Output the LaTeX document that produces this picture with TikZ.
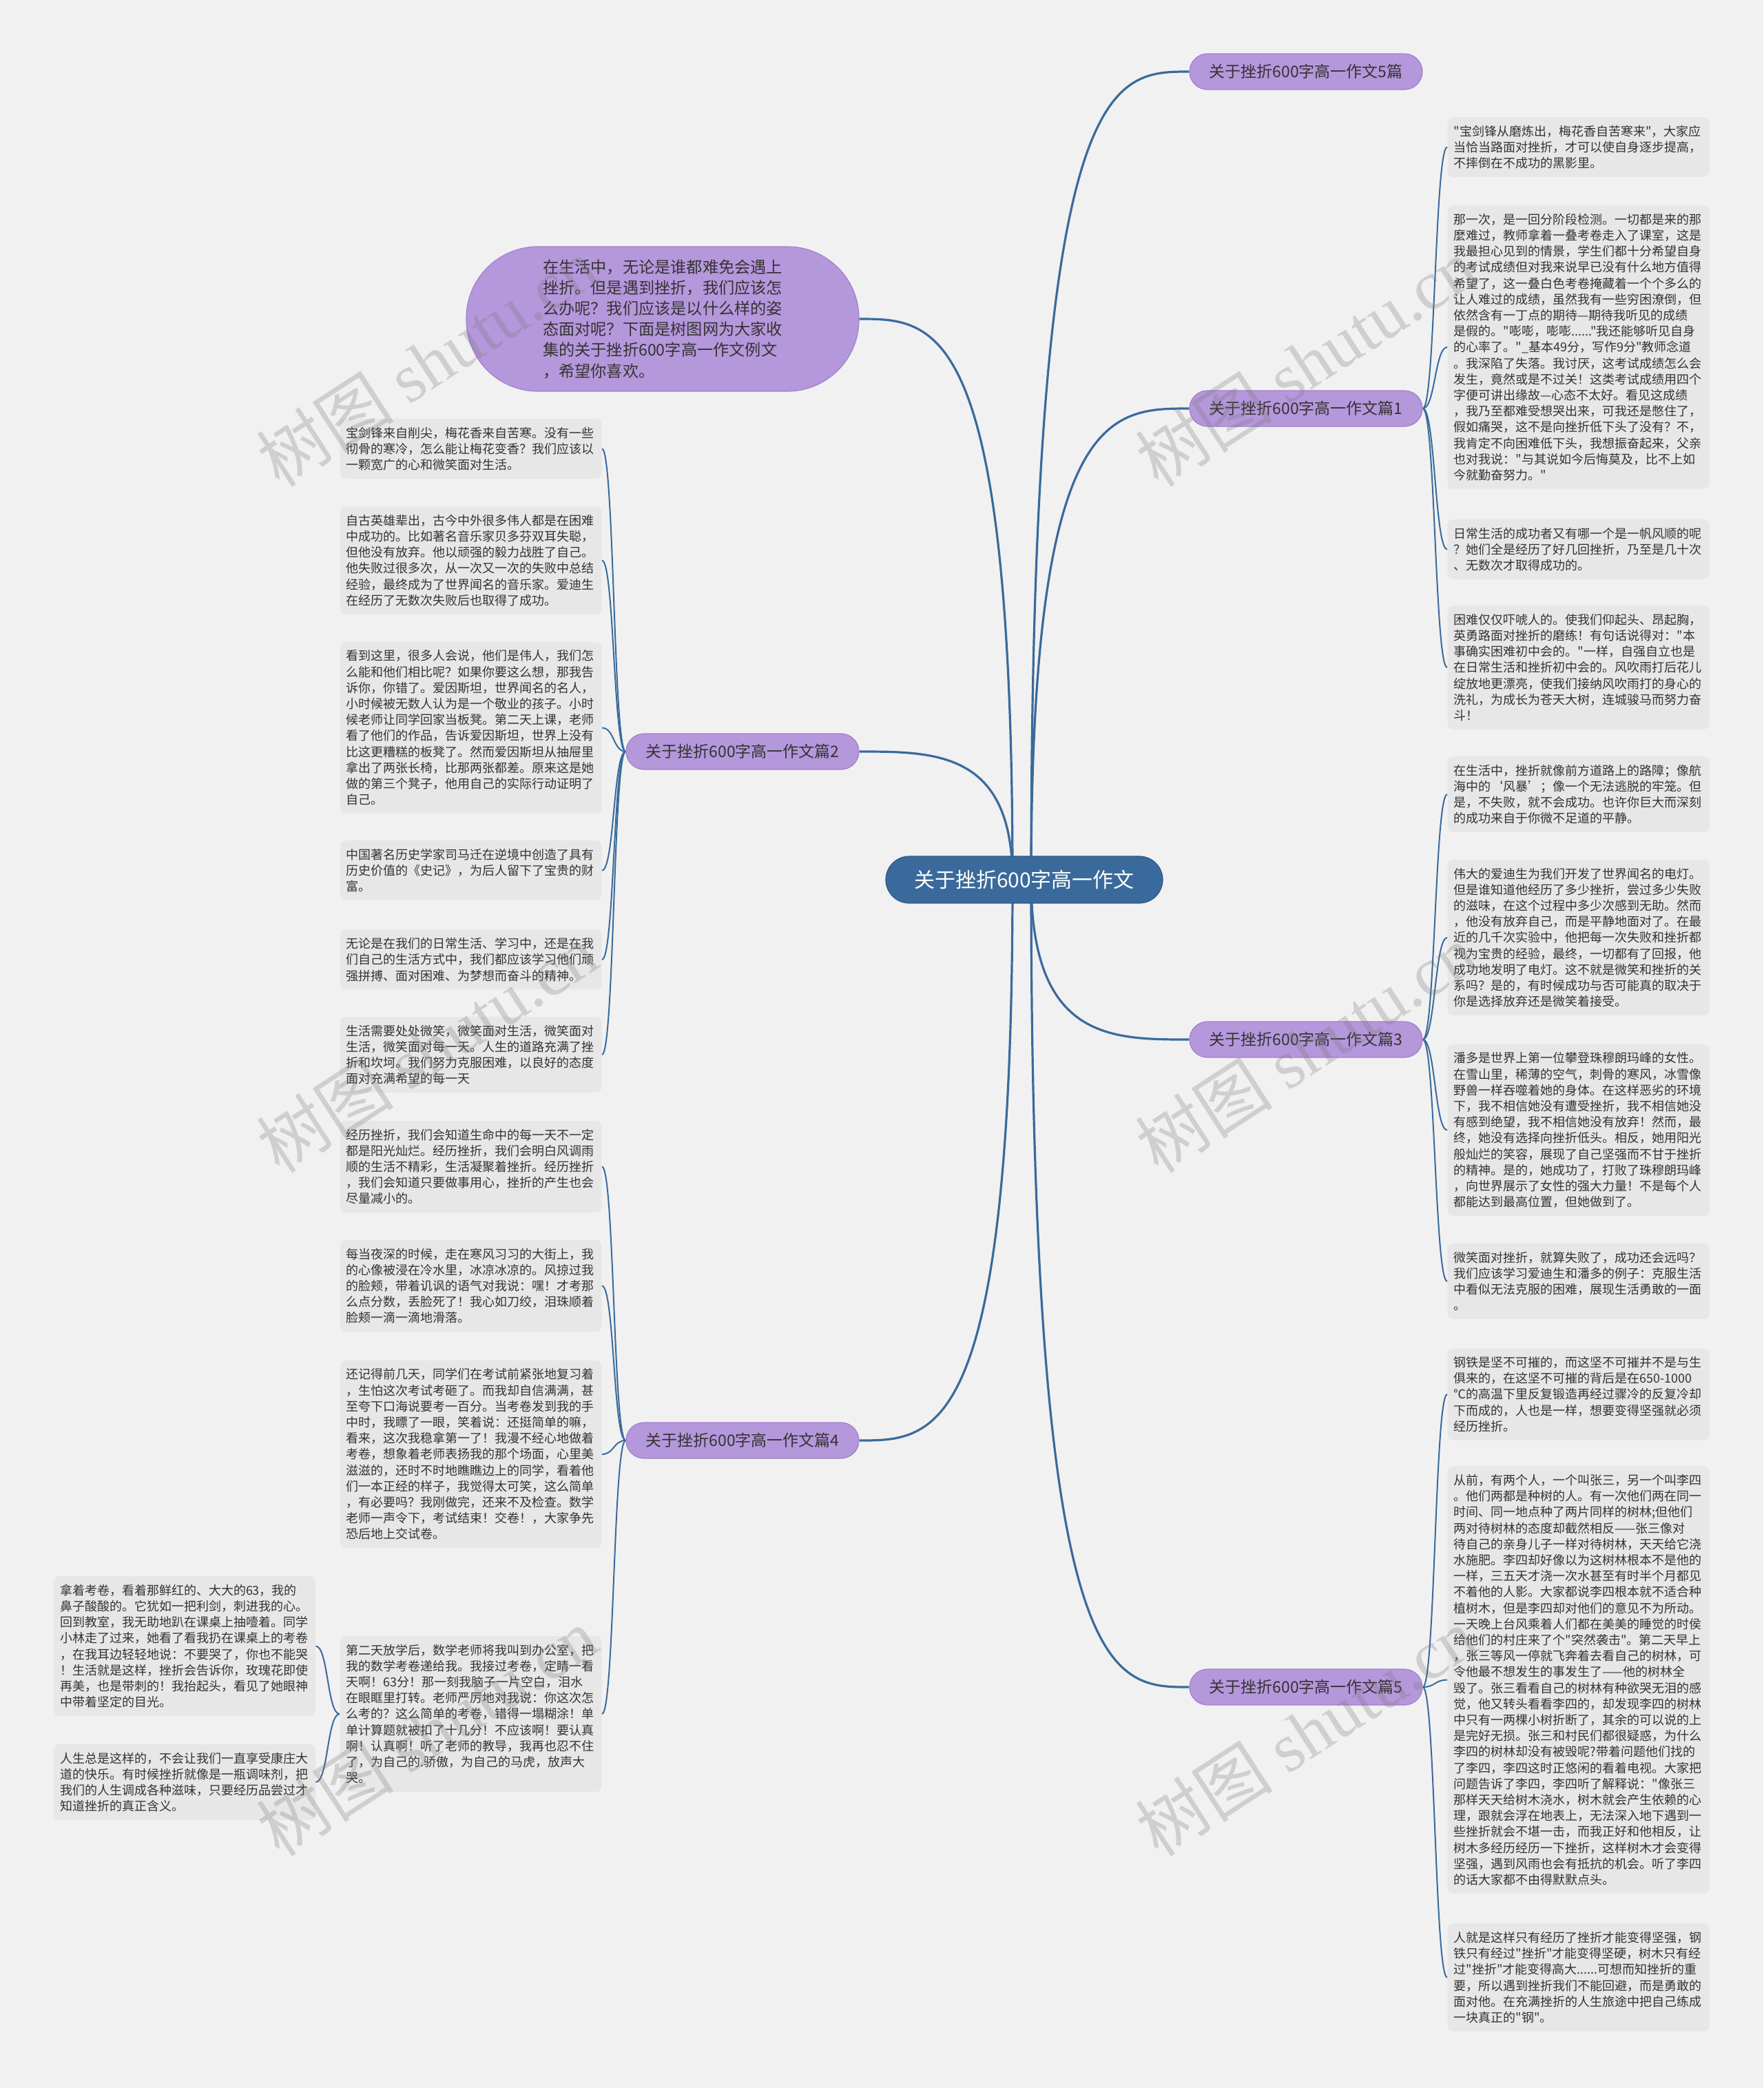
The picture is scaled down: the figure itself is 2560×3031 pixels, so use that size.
\documentclass[tikz,border=0pt]{standalone}
\usepackage{fontspec}
\setmainfont{Noto Sans CJK SC}[Ligatures=TeXOff]
\newfontfamily\wmlat{Liberation Serif}
\usetikzlibrary{calc}
\definecolor{bgc}{RGB}{241,241,241}
\definecolor{leafc}{RGB}{231,231,231}
\definecolor{txtc}{RGB}{51,51,51}
\definecolor{bluec}{RGB}{58,106,155}
\definecolor{blued}{RGB}{45,88,132}
\definecolor{purc}{RGB}{181,151,219}
\definecolor{purd}{RGB}{160,128,205}
\definecolor{wmc}{RGB}{120,120,120}
\pgfdeclarelayer{bottom}
\pgfdeclarelayer{links}
\pgfdeclarelayer{top}
\pgfsetlayers{bottom,links,main,top}
\newcommand\leaffont{\fontsize{9pt}{11.6pt}\selectfont}
\newcommand\leafnode[5]{\node[leaf, minimum height={(11.6*#4+8.5)*1pt}] (#1) at (#2,#3) {#5};}
\newcommand\trunkR[1]{\draw[trunk] (cR) .. controls (cR |- #1.west) and ($(cR |- #1.west)!0.5!(#1.west)$) .. (#1.west);}
\newcommand\trunkL[1]{\draw[trunk] (cL) .. controls (cL |- #1.east) and ($(cL |- #1.east)!0.5!(#1.east)$) .. (#1.east);}
\newcommand\twigR[2]{\draw[twig] (#1.east) .. controls +(18,0) and +(-18,0) .. (#2.west);}
\newcommand\twigL[2]{\draw[twig] (#1.west) .. controls +(-18,0) and +(18,0) .. (#2.east);}
\begin{document}
\begin{tikzpicture}[x=0.5pt,y=-0.5pt,
  leaf/.style={fill=leafc, rounded corners=4pt, text width=181pt, align=left, inner xsep=4.5pt, inner ysep=0pt, font=\leaffont, text=txtc},
  topic/.style={fill=purc, draw=purd, line width=0.6pt, rounded corners=13pt, minimum width=169pt, minimum height=26pt, inner sep=0pt, font=\fontsize{11.5pt}{13pt}\selectfont, text=txtc},
  central/.style={fill=bluec, draw=blued, line width=0.6pt, rounded corners=17pt, minimum width=201pt, minimum height=34pt, inner sep=0pt, font=\fontsize{15pt}{18pt}\selectfont, text=white},
  bubble/.style={fill=purc, draw=purd, line width=0.6pt, rounded corners=52pt, minimum width=285pt, minimum height=105pt, inner sep=0pt, align=left, font=\fontsize{11.6pt}{15.1pt}\selectfont, text=txtc},
  trunk/.style={draw=bluec, line width=1.6pt},
  twig/.style={draw=bluec, line width=1pt},
  wm/.style={text=wmc, opacity=0.28, font=\fontsize{50pt}{50pt}\selectfont, rotate=33}]
\useasboundingbox (0,0) rectangle (2560,3031);
\begin{pgfonlayer}{bottom}
\fill[bgc] (0,0) rectangle (2560,3031);
\end{pgfonlayer}

% central and topics
\node[central] (c) at (1487,1277) {关于挫折600字高一作文};
\coordinate (cR) at (1497,1277);
\coordinate (cL) at (1470,1277);
\node[topic] (t0) at (1896,104) {关于挫折600字高一作文5篇};
\node[topic] (t1) at (1896,593) {关于挫折600字高一作文篇1};
\node[topic] (t3) at (1896,1509) {关于挫折600字高一作文篇3};
\node[topic] (t5) at (1896,2449) {关于挫折600字高一作文篇5};
\node[topic] (t2) at (1078,1091) {关于挫折600字高一作文篇2};
\node[topic] (t4) at (1078,2091) {关于挫折600字高一作文篇4};
\node[bubble] (bub) at (962,463) {在生活中，无论是谁都难免会遇上\\挫折。但是遇到挫折，我们应该怎\\么办呢？我们应该是以什么样的姿\\态面对呢？下面是树图网为大家收\\集的关于挫折600字高一作文例文\\，希望你喜欢。};

% right leaves
\leafnode{a1}{2291.5}{213.5}{3}{"宝剑锋从磨炼出，梅花香自苦寒来"，大家应\\当恰当路面对挫折，才可以使自身逐步提高，\\不摔倒在不成功的黑影里。}
\leafnode{a2}{2291.5}{504}{17}{那一次，是一回分阶段检测。一切都是来的那\\麼难过，教师拿着一叠考卷走入了课室，这是\\我最担心见到的情景，学生们都十分希望自身\\的考试成绩但对我来说早已没有什么地方值得\\希望了，这一叠白色考卷掩藏着一个个多么的\\让人难过的成绩，虽然我有一些穷困潦倒，但\\依然含有一丁点的期待—期待我听见的成绩\\是假的。"嘭嘭，嘭嘭......"我还能够听见自身\\的心率了。"\_基本49分，写作9分"教师念道\\。我深陷了失落。我讨厌，这考试成绩怎么会\\发生，竟然或是不过关！这类考试成绩用四个\\字便可讲出缘故—心态不太好。看见这成绩\\，我乃至都难受想哭出来，可我还是憋住了，\\假如痛哭，这不是向挫折低下头了没有？不，\\我肯定不向困难低下头，我想振奋起来，父亲\\也对我说："与其说如今后悔莫及，比不上如\\今就勤奋努力。"}
\leafnode{a3}{2291.5}{797.5}{3}{日常生活的成功者又有哪一个是一帆风顺的呢\\？她们全是经历了好几回挫折，乃至是几十次\\、无数次才取得成功的。}
\leafnode{a4}{2291.5}{969}{7}{困难仅仅吓唬人的。使我们仰起头、昂起胸，\\英勇路面对挫折的磨练！有句话说得对："本\\事确实困难初中会的。"一样，自强自立也是\\在日常生活和挫折初中会的。风吹雨打后花儿\\绽放地更漂亮，使我们接纳风吹雨打的身心的\\洗礼，为成长为苍天大树，连城骏马而努力奋\\斗！}
\leafnode{b1}{2291.5}{1153}{4}{在生活中，挫折就像前方道路上的路障；像航\\海中的‘风暴’；像一个无法逃脱的牢笼。但\\是，不失败，就不会成功。也许你巨大而深刻\\的成功来自于你微不足道的平静。}
\leafnode{b2}{2291.5}{1361}{9}{伟大的爱迪生为我们开发了世界闻名的电灯。\\但是谁知道他经历了多少挫折，尝过多少失败\\的滋味，在这个过程中多少次感到无助。然而\\，他没有放弃自己，而是平静地面对了。在最\\近的几千次实验中，他把每一次失败和挫折都\\视为宝贵的经验，最终，一切都有了回报，他\\成功地发明了电灯。这不就是微笑和挫折的关\\系吗？是的，有时候成功与否可能真的取决于\\你是选择放弃还是微笑着接受。}
\leafnode{b3}{2291.5}{1640.5}{10}{潘多是世界上第一位攀登珠穆朗玛峰的女性。\\在雪山里，稀薄的空气，刺骨的寒风，冰雪像\\野兽一样吞噬着她的身体。在这样恶劣的环境\\下，我不相信她没有遭受挫折，我不相信她没\\有感到绝望，我不相信她没有放弃！然而，最\\终，她没有选择向挫折低头。相反，她用阳光\\般灿烂的笑容，展现了自己坚强而不甘于挫折\\的精神。是的，她成功了，打败了珠穆朗玛峰\\，向世界展示了女性的强大力量！不是每个人\\都能达到最高位置，但她做到了。}
\leafnode{b4}{2291.5}{1860}{4}{微笑面对挫折，就算失败了，成功还会远吗？\\我们应该学习爱迪生和潘多的例子：克服生活\\中看似无法克服的困难，展现生活勇敢的一面\\。}
\leafnode{c1}{2291.5}{2024}{5}{钢铁是坚不可摧的，而这坚不可摧并不是与生\\俱来的，在这坚不可摧的背后是在650-1000\\℃的高温下里反复锻造再经过骤冷的反复冷却\\下而成的，人也是一样，想要变得坚强就必须\\经历挫折。}
\leafnode{c2}{2291.5}{2438.5}{26}{从前，有两个人，一个叫张三，另一个叫李四\\。他们两都是种树的人。有一次他们两在同一\\时间、同一地点种了两片同样的树林;但他们\\两对待树林的态度却截然相反——张三像对\\待自己的亲身儿子一样对待树林，天天给它浇\\水施肥。李四却好像以为这树林根本不是他的\\一样，三五天才浇一次水甚至有时半个月都见\\不着他的人影。大家都说李四根本就不适合种\\植树木，但是李四却对他们的意见不为所动。\\一天晚上台风乘着人们都在美美的睡觉的时侯\\给他们的村庄来了个"突然袭击"。第二天早上\\，张三等风一停就飞奔着去看自己的树林，可\\令他最不想发生的事发生了——他的树林全\\毁了。张三看看自己的树林有种欲哭无泪的感\\觉，他又转头看看李四的，却发现李四的树林\\中只有一两棵小树折断了，其余的可以说的上\\是完好无损。张三和村民们都很疑惑，为什么\\李四的树林却没有被毁呢?带着问题他们找的\\了李四，李四这时正悠闲的看着电视。大家把\\问题告诉了李四，李四听了解释说："像张三\\那样天天给树木浇水，树木就会产生依赖的心\\理，跟就会浮在地表上，无法深入地下遇到一\\些挫折就会不堪一击，而我正好和他相反，让\\树木多经历经历一下挫折，这样树木才会变得\\坚强，遇到风雨也会有抵抗的机会。听了李四\\的话大家都不由得默默点头。}
\leafnode{c3}{2291.5}{2870.5}{6}{人就是这样只有经历了挫折才能变得坚强，钢\\铁只有经过"挫折"才能变得坚硬，树木只有经\\过"挫折"才能变得高大......可想而知挫折的重\\要，所以遇到挫折我们不能回避，而是勇敢的\\面对他。在充满挫折的人生旅途中把自己练成\\一块真正的"钢"。}

% left leaves
\leafnode{l1}{683.5}{651.5}{3}{宝剑锋来自削尖，梅花香来自苦寒。没有一些\\彻骨的寒冷，怎么能让梅花变香？我们应该以\\一颗宽广的心和微笑面对生活。}
\leafnode{l2}{683.5}{813.5}{6}{自古英雄辈出，古今中外很多伟人都是在困难\\中成功的。比如著名音乐家贝多芬双耳失聪，\\但他没有放弃。他以顽强的毅力战胜了自己。\\他失败过很多次，从一次又一次的失败中总结\\经验，最终成为了世界闻名的音乐家。爱迪生\\在经历了无数次失败后也取得了成功。}
\leafnode{l3}{683.5}{1056.5}{10}{看到这里，很多人会说，他们是伟人，我们怎\\么能和他们相比呢？如果你要这么想，那我告\\诉你，你错了。爱因斯坦，世界闻名的名人，\\小时候被无数人认为是一个敬业的孩子。小时\\候老师让同学回家当板凳。第二天上课，老师\\看了他们的作品，告诉爱因斯坦，世界上没有\\比这更糟糕的板凳了。然而爱因斯坦从抽屉里\\拿出了两张长椅，比那两张都差。原来这是她\\做的第三个凳子，他用自己的实际行动证明了\\自己。}
\leafnode{l4}{683.5}{1263.5}{3}{中国著名历史学家司马迁在逆境中创造了具有\\历史价值的《史记》，为后人留下了宝贵的财\\富。}
\leafnode{l5}{683.5}{1393}{3}{无论是在我们的日常生活、学习中，还是在我\\们自己的生活方式中，我们都应该学习他们顽\\强拼搏、面对困难、为梦想而奋斗的精神。}
\leafnode{l6}{683.5}{1531}{4}{生活需要处处微笑，微笑面对生活，微笑面对\\生活，微笑面对每一天。人生的道路充满了挫\\折和坎坷。我们努力克服困难，以良好的态度\\面对充满希望的每一天}
\leafnode{l7}{683.5}{1693.5}{5}{经历挫折，我们会知道生命中的每一天不一定\\都是阳光灿烂。经历挫折，我们会明白风调雨\\顺的生活不精彩，生活凝聚着挫折。经历挫折\\，我们会知道只要做事用心，挫折的产生也会\\尽量减小的。}
\leafnode{l8}{683.5}{1866.5}{5}{每当夜深的时候，走在寒风习习的大街上，我\\的心像被浸在冷水里，冰凉冰凉的。风掠过我\\的脸颊，带着讥讽的语气对我说：嘿！才考那\\么点分数，丢脸死了！我心如刀绞，泪珠顺着\\脸颊一滴一滴地滑落。}
\leafnode{l9}{683.5}{2111}{11}{还记得前几天，同学们在考试前紧张地复习着\\，生怕这次考试考砸了。而我却自信满满，甚\\至夸下口海说要考一百分。当考卷发到我的手\\中时，我瞟了一眼，笑着说：还挺简单的嘛，\\看来，这次我稳拿第一了！我漫不经心地做着\\考卷，想象着老师表扬我的那个场面，心里美\\滋滋的，还时不时地瞧瞧边上的同学，看着他\\们一本正经的样子，我觉得太可笑，这么简单\\，有必要吗？我刚做完，还来不及检查。数学\\老师一声令下，考试结束！交卷！，大家争先\\恐后地上交试卷。}
\leafnode{l10}{683.5}{2488}{9}{第二天放学后，数学老师将我叫到办公室，把\\我的数学考卷递给我。我接过考卷，定睛一看\\天啊！63分！那一刻我脑子一片空白，泪水\\在眼眶里打转。老师严厉地对我说：你这次怎\\么考的？这么简单的考卷，错得一塌糊涂！单\\单计算题就被扣了十几分！不应该啊！要认真\\啊！认真啊！听了老师的教导，我再也忍不住\\了，为自己的.骄傲，为自己的马虎，放声大\\哭。}
\leafnode{f1}{268}{2389.5}{8}{拿着考卷，看着那鲜红的、大大的63，我的\\鼻子酸酸的。它犹如一把利剑，刺进我的心。\\回到教室，我无助地趴在课桌上抽噎着。同学\\小林走了过来，她看了看我扔在课桌上的考卷\\，在我耳边轻轻地说：不要哭了，你也不能哭\\！生活就是这样，挫折会告诉你，玫瑰花即使\\再美，也是带刺的！我抬起头，看见了她眼神\\中带着坚定的目光。}
\leafnode{f2}{268}{2587}{4}{人生总是这样的，不会让我们一直享受康庄大\\道的快乐。有时候挫折就像是一瓶调味剂，把\\我们的人生调成各种滋味，只要经历品尝过才\\知道挫折的真正含义。}

\begin{pgfonlayer}{links}
\trunkR{t0}
\trunkR{t1}
\trunkR{t3}
\trunkR{t5}
\trunkL{t2}
\trunkL{t4}
\trunkL{bub}
\foreach \l in {a1,a2,a3,a4} {\twigR{t1}{\l}}
\foreach \l in {b1,b2,b3,b4} {\twigR{t3}{\l}}
\foreach \l in {c1,c2,c3} {\twigR{t5}{\l}}
\foreach \l in {l1,l2,l3,l4,l5,l6} {\twigL{t2}{\l}}
\foreach \l in {l7,l8,l9,l10} {\twigL{t4}{\l}}
\twigL{l10}{f1}
\twigL{l10}{f2}
\end{pgfonlayer}

\begin{pgfonlayer}{top}
\foreach \wx/\wy [count=\i] in {620/526,620/1522,620/2514,1896/526,1896/1522,1896/2514}
  {\node[wm] (wm\i) at (\wx,\wy) {树图 {\wmlat shutu.cn}};}
\end{pgfonlayer}
\end{tikzpicture}
\end{document}
